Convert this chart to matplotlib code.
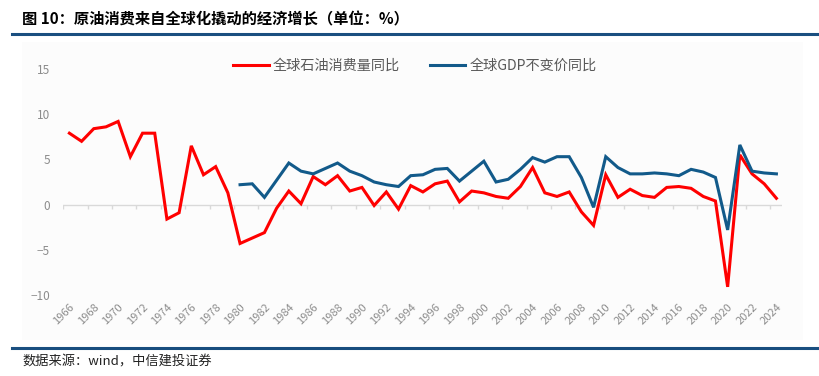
import matplotlib
matplotlib.use('Agg')
import matplotlib.pyplot as plt
from matplotlib.patches import Rectangle
from matplotlib.lines import Line2D

plt.rcParams['font.family'] = ['Noto Sans CJK SC', 'DejaVu Sans']

# data
oil_years = list(range(1966, 2025))
oil_yoy = [7.9, 7.0, 8.4, 8.6, 9.2, 5.3, 7.9, 7.9, -1.6, -0.9,
           6.5, 3.3, 4.2, 1.3, -4.3, -3.7, -3.1, -0.4, 1.5, 0.1,
           3.1, 2.2, 3.2, 1.5, 1.9, -0.1, 1.4, -0.5, 2.1, 1.4,
           2.3, 2.6, 0.3, 1.5, 1.3, 0.9, 0.7, 2.0, 4.1, 1.3,
           0.9, 1.4, -0.8, -2.3, 3.3, 0.8, 1.7, 1.0, 0.8, 1.9,
           2.0, 1.8, 0.9, 0.4, -9.1, 5.5, 3.4, 2.3, 0.7]
gdp_years = list(range(1980, 2025))
gdp_yoy = [2.2, 2.3, 0.8, 2.7, 4.6, 3.7, 3.4, 4.0, 4.6, 3.7,
           3.2, 2.5, 2.2, 2.0, 3.2, 3.3, 3.9, 4.0, 2.6, 3.7,
           4.8, 2.5, 2.8, 3.9, 5.2, 4.7, 5.3, 5.3, 3.0, -0.3,
           5.3, 4.1, 3.4, 3.4, 3.5, 3.4, 3.2, 3.9, 3.6, 3.0,
           -2.8, 6.6, 3.7, 3.5, 3.4]
tick_years = list(range(1966, 2025, 2))
series_names = ['全球石油消费量同比', '全球GDP不变价同比']

RED = '#FF0000'
BLUE = '#125A8A'
RULE = '#1A4F80'
GREY = '#8C8C8C'
W, H = 820, 376

fig = plt.figure(figsize=(8.2, 3.76), dpi=100)

# light chart area background
bg = Rectangle((22 / W, 1 - 340 / H), (803 - 22) / W, (340 - 42) / H,
               transform=fig.transFigure, fc='#FCFCFC', ec='none', zorder=-10)
fig.add_artist(bg)

# title + rules
fig.text(22 / W, 1 - 19 / H, '图 10：原油消费来自全球化撬动的经济增长（单位：%）',
         fontsize=11, fontweight='bold', color='black', va='center', ha='left')
fig.add_artist(Line2D([12 / W, 1], [1 - 33.5 / H, 1 - 33.5 / H], color=RULE, lw=2.2,
                      transform=fig.transFigure))
fig.add_artist(Line2D([12 / W, 1], [1 - 348 / H, 1 - 348 / H], color=RULE, lw=2.2,
                      transform=fig.transFigure))
fig.text(22 / W, 1 - 362 / H, '数据来源：wind，中信建投证券', fontsize=9.5,
         style='italic', color='#222222', va='center', ha='left')

# plot area
left, right, top, bottom = 63.3, 782.5, 69, 295
ax = fig.add_axes([left / W, 1 - bottom / H, (right - left) / W, (bottom - top) / H])
ax.set_zorder(5)
ax.set_facecolor('none')
for s in ax.spines.values():
    s.set_visible(False)

ax.plot(oil_years, oil_yoy, color=RED, lw=2.2, label=series_names[0], solid_joinstyle='miter')
ax.plot(gdp_years, gdp_yoy, color=BLUE, lw=2.2, label=series_names[1], solid_joinstyle='miter')

ax.set_xlim(1965.5, 2024.5)
ax.set_ylim(-10, 15)
ax.set_yticks([-10, -5, 0, 5, 10, 15])
ax.tick_params(axis='y', length=0, labelsize=8.5, labelcolor=GREY, pad=9.5)

# zero axis line with small tick marks
ax.axhline(0, color='#D9D9D9', lw=1, zorder=1)
ax.vlines([y - 0.5 for y in tick_years] + [2024.5], -0.45, 0, color='#D9D9D9', lw=1, zorder=1)

ax.set_xticks(tick_years)
ax.set_xticklabels([str(y) for y in tick_years], rotation=45, ha='right',
                   rotation_mode='anchor', fontsize=8, color=GREY)
ax.tick_params(axis='x', length=0, pad=5)

ax.legend(loc='upper center', bbox_to_anchor=(0.489, 1.1), ncol=2, frameon=False,
          fontsize=10.2, labelcolor='#595959', handlelength=2.5, columnspacing=2.1,
          handletextpad=0.3)

fig.savefig('out.png', dpi=100)
